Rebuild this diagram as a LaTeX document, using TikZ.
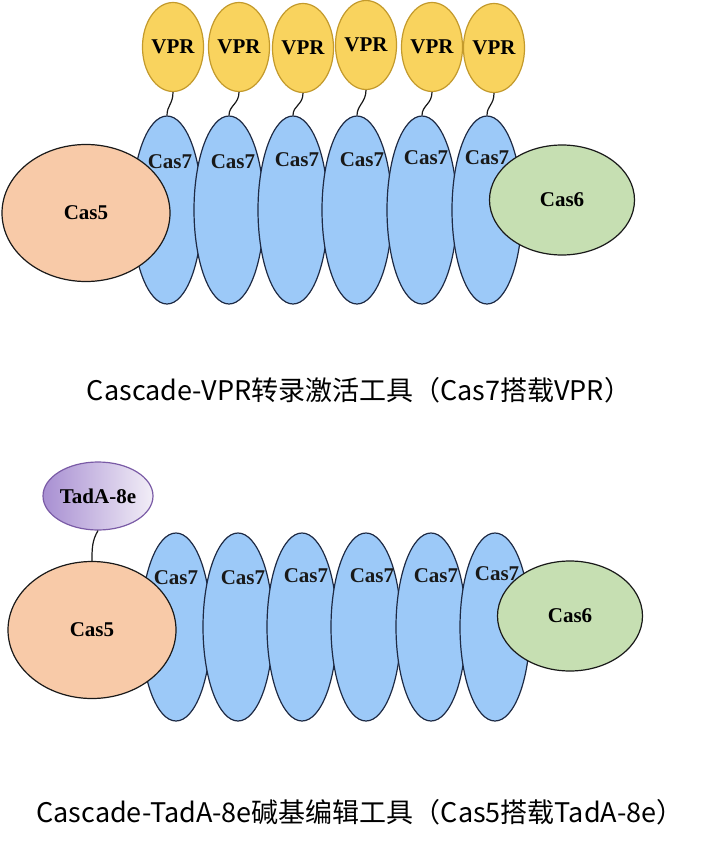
\documentclass[tikz,border=0pt]{standalone}
\usepackage{fontspec}
\setmainfont{Liberation Serif}
\newfontfamily\cjk{Noto Sans CJK SC}
\usetikzlibrary{shapes.geometric}
\definecolor{vprfill}{HTML}{F9D35E}
\definecolor{vprdraw}{HTML}{C39A2C}
\definecolor{casseven}{HTML}{9CC9F8}
\definecolor{navy}{HTML}{1E2A44}
\definecolor{casfive}{HTML}{F8CAA8}
\definecolor{cassix}{HTML}{C6DFB2}
\definecolor{tadl}{HTML}{A88FD2}
\definecolor{tadr}{HTML}{F2EEF7}
\definecolor{taddraw}{HTML}{7A5BA6}
\begin{document}
\begin{tikzpicture}[x=1pt,y=-1pt,
 blob/.style={ellipse, inner sep=0pt, draw, line width=1.2pt},
 vpr/.style={blob, fill=vprfill, draw=vprdraw, minimum width=48pt, minimum height=89pt, font=\fontsize{21}{24}\selectfont\bfseries},
 seven/.style={blob, fill=casseven, draw=navy, minimum width=70pt, minimum height=188pt},
 five/.style={blob, fill=casfive, draw=black!90, minimum width=168pt, minimum height=137pt, font=\fontsize{21}{24}\selectfont\bfseries},
 six/.style={blob, fill=cassix, draw=black!90, minimum width=145pt, minimum height=110pt, font=\fontsize{21}{24}\selectfont\bfseries},
 tada/.style={blob, left color=tadl, right color=tadr, draw=taddraw, minimum width=110pt, minimum height=68pt, font=\fontsize{21}{24}\selectfont\bfseries},
 lab/.style={font=\fontsize{21}{24}\selectfont\bfseries, text=black!90},
 captext/.style={font=\cjk\fontsize{27}{30}\selectfont},
 tether/.style={draw=black!90, line width=1.2pt}]
\useasboundingbox (0,0) rectangle (707,845);
\fill[white] (0,0) rectangle (707,845);
% ---------- top diagram ----------
\node[seven] (a1) at (167,210) {};
\node[seven] (a2) at (229,210) {};
\node[seven] (a3) at (293,210) {};
\node[seven] (a4) at (357,210) {};
\node[seven] (a5) at (422,210) {};
\node[seven] (a6) at (487,210) {};
\node[five] (a5n) at (86,213) {Cas5};
\node[six] (a6n) at (562,200) {Cas6};
\node[lab] (la1) at (170,162) {Cas7};
\node[lab] (la2) at (233,162) {Cas7};
\node[lab] (la3) at (297,160) {Cas7};
\node[lab] (la4) at (362,160) {Cas7};
\node[lab] (la5) at (426,158) {Cas7};
\node[lab] (la6) at (487,158) {Cas7};
\node[vpr] (v1) at (173,47) {VPR};
\node[vpr] (v2) at (239,47) {VPR};
\node[vpr] (v3) at (303,48) {VPR};
\node[vpr] (v4) at (366,45) {VPR};
\node[vpr] (v5) at (432,47) {VPR};
\node[vpr] (v6) at (494,48) {VPR};
\foreach \i in {1,...,6}
  \draw[tether] (v\i.south) .. controls +(0,12) and +(0,-10) .. (a\i.north);
\node[captext] (cap1) at (359,390) {Cascade-VPR转录激活工具（Cas7搭载VPR）};
% ---------- bottom diagram ----------
\node[seven] (b1) at (176,627) {};
\node[seven] (b2) at (238,627) {};
\node[seven] (b3) at (302,627) {};
\node[seven] (b4) at (366,627) {};
\node[seven] (b5) at (431,627) {};
\node[seven] (b6) at (495,627) {};
\node[five] (b5n) at (92,630) {Cas5};
\node[six] (b6n) at (570,616) {Cas6};
\node[lab] (lb1) at (176,578) {Cas7};
\node[lab] (lb2) at (243,578) {Cas7};
\node[lab] (lb3) at (306,576) {Cas7};
\node[lab] (lb4) at (372,576) {Cas7};
\node[lab] (lb5) at (436,576) {Cas7};
\node[lab] (lb6) at (497,574) {Cas7};
\node[tada] (t) at (98,496) {TadA-8e};
\draw[tether] (t.south) .. controls +(-6,10) and +(0,-12) .. (b5n.north);
\node[captext] (cap2) at (360,812) {Cascade-TadA-8e碱基编辑工具（Cas5搭载TadA-8e）};
\end{tikzpicture}
\end{document}
